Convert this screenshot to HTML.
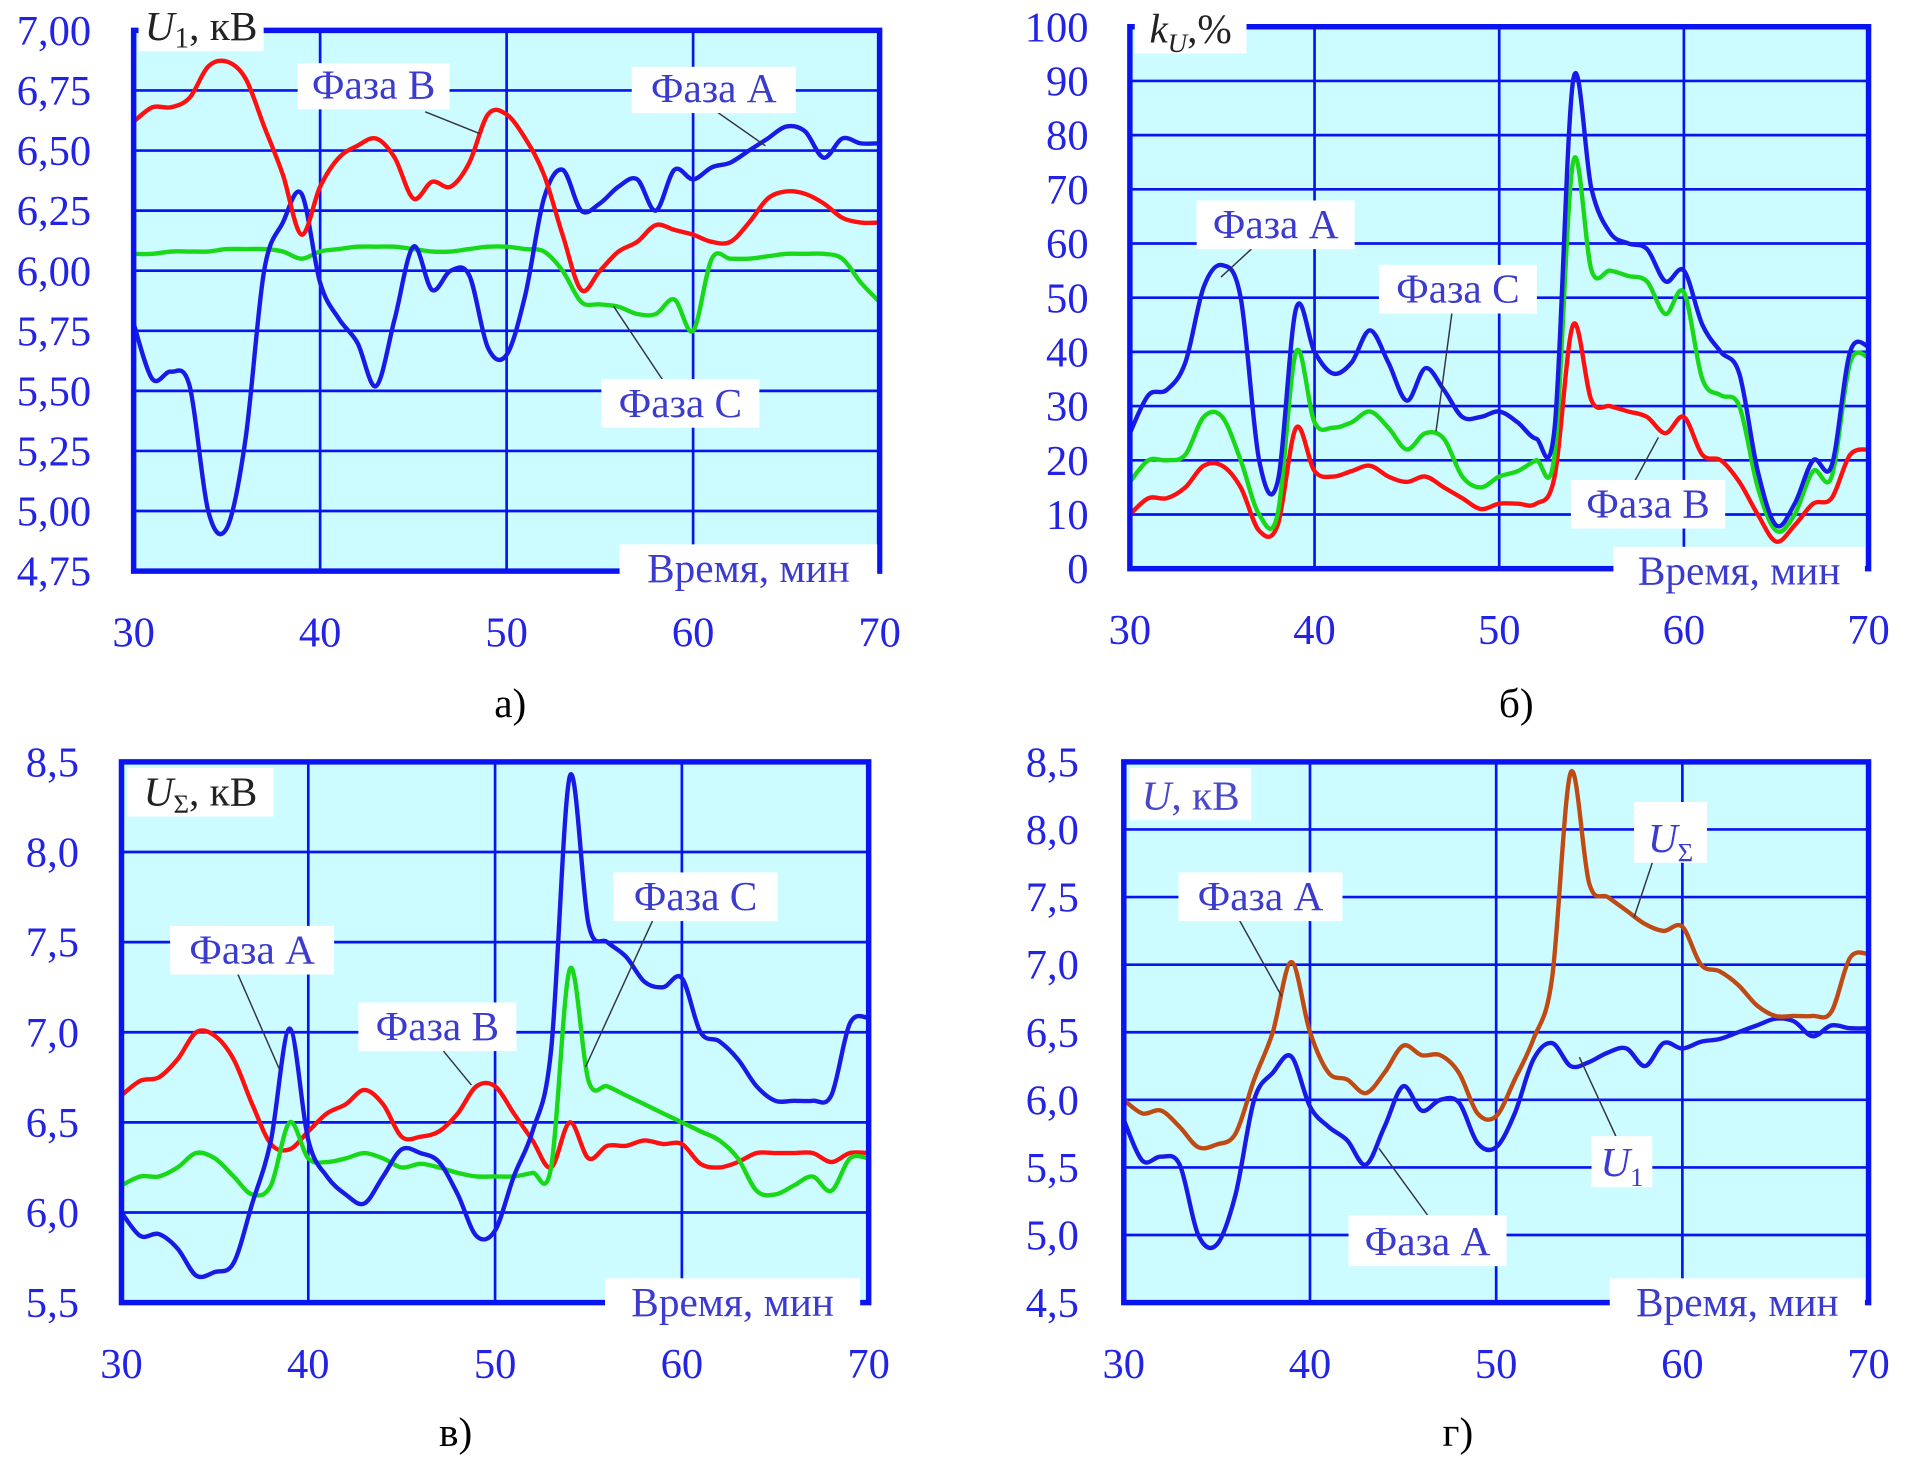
<!DOCTYPE html>
<html><head><meta charset="utf-8"><style>
html,body{margin:0;padding:0;background:#fff;}
svg{display:block;}
text{font-family:"Liberation Serif",serif;}
</style></head><body>
<svg id="svg" width="1905" height="1463" viewBox="0 0 1568 1204" preserveAspectRatio="none" xmlns="http://www.w3.org/2000/svg"></svg>
<script>
const xs = [30,31,32,33,34,35,36,37,38,39,40,41,42,43,44,45,46,47,48,49,50,51,52,53,54,55,56,57,58,59,60,61,62,63,64,65,66,67,68,69,70];
const xTicks = [30,40,50,60,70];

const aPhaseA = [5.78,5.55,5.58,5.52,5.0,4.93,5.3,6.0,6.2,6.32,5.95,5.8,5.7,5.52,5.8,6.1,5.92,6.0,5.98,5.68,5.65,5.9,6.3,6.42,6.25,6.28,6.35,6.38,6.25,6.42,6.38,6.43,6.45,6.5,6.55,6.6,6.58,6.47,6.55,6.53,6.53];
const aPhaseB = [6.62,6.68,6.68,6.72,6.85,6.87,6.8,6.6,6.4,6.15,6.35,6.47,6.52,6.55,6.47,6.3,6.37,6.35,6.45,6.65,6.65,6.55,6.4,6.15,5.92,6.0,6.08,6.12,6.19,6.17,6.15,6.12,6.12,6.2,6.3,6.33,6.32,6.28,6.22,6.2,6.2];
const aPhaseC = [6.07,6.07,6.08,6.08,6.08,6.09,6.09,6.09,6.08,6.05,6.08,6.09,6.1,6.1,6.1,6.09,6.08,6.08,6.09,6.1,6.1,6.09,6.08,6.0,5.87,5.86,5.85,5.82,5.82,5.88,5.75,6.05,6.05,6.05,6.06,6.07,6.07,6.07,6.05,5.95,5.87];
const aTicks = ["4,75","5,00","5,25","5,50","5,75","6,00","6,25","6,50","6,75","7,00"];

const bPhaseA = [25,32,33,38,52,56,50,20,16,48,40,36,38,44,38,31,37,33,28,28,29,27,24,26,90,70,62,60,59,53,55,45,40,36,18,8,12,20,19,40,41];
const bPhaseC = [16,20,20,21,28,28,20,10,10,40,27,26,27,29,26,22,25,24,17,15,17,18,20,21,75,55,55,54,53,47,51,35,32,30,15,7,10,18,17,38,39];
const bPhaseB = [10,13,13,15,19,19,15,7,8,26,18,17,18,19,17,16,17,15,13,11,12,12,12,17,45,31,30,29,28,25,28,21,20,16,10,5,8,12,13,21,22];
const bTicks = ["0","10","20","30","40","50","60","70","80","90","100"];

const cPhaseA = [6.0,5.87,5.88,5.8,5.65,5.67,5.72,6.05,6.4,7.02,6.4,6.2,6.1,6.05,6.2,6.35,6.33,6.28,6.1,5.87,5.9,6.2,6.45,6.9,8.42,7.6,7.5,7.42,7.28,7.25,7.3,7.0,6.95,6.85,6.7,6.62,6.62,6.62,6.65,7.05,7.08];
const cPhaseB = [6.65,6.73,6.75,6.85,7.0,6.98,6.85,6.6,6.38,6.35,6.45,6.55,6.6,6.68,6.6,6.42,6.42,6.45,6.55,6.7,6.7,6.55,6.4,6.25,6.5,6.3,6.37,6.37,6.4,6.38,6.38,6.27,6.25,6.28,6.33,6.33,6.33,6.33,6.28,6.33,6.33];
const cPhaseC = [6.15,6.2,6.2,6.25,6.33,6.3,6.2,6.1,6.15,6.5,6.3,6.28,6.3,6.33,6.3,6.25,6.27,6.25,6.22,6.2,6.2,6.2,6.22,6.25,7.35,6.73,6.7,6.65,6.6,6.55,6.5,6.45,6.4,6.3,6.12,6.1,6.15,6.2,6.12,6.3,6.3];
const cTicks = ["5,5","6,0","6,5","7,0","7,5","8,0","8,5"];

const dU1 = [5.85,5.55,5.58,5.52,5.0,4.93,5.3,6.0,6.2,6.32,5.95,5.8,5.7,5.52,5.8,6.1,5.92,6.0,5.98,5.68,5.65,5.9,6.3,6.42,6.25,6.28,6.35,6.38,6.25,6.42,6.38,6.43,6.45,6.5,6.55,6.6,6.58,6.47,6.55,6.53,6.53];
const dUsum = [6.0,5.9,5.92,5.8,5.65,5.67,5.75,6.15,6.5,7.02,6.5,6.2,6.15,6.05,6.2,6.4,6.33,6.33,6.2,5.9,5.88,6.15,6.45,6.9,8.42,7.6,7.5,7.4,7.3,7.25,7.28,7.0,6.95,6.85,6.7,6.62,6.62,6.62,6.65,7.05,7.08];
const dTicks = ["4,5","5,0","5,5","6,0","6,5","7,0","7,5","8,0","8,5"];

const NS = "http://www.w3.org/2000/svg";
const svg = document.getElementById('svg');
function el(tag, attrs, parent){const e=document.createElementNS(NS,tag);for(const k in attrs)e.setAttribute(k,attrs[k]);(parent||svg).appendChild(e);return e;}

function smooth(pts){
  let d = "M"+pts[0][0]+","+pts[0][1];
  for(let i=0;i<pts.length-1;i++){
    const p0=pts[Math.max(i-1,0)],p1=pts[i],p2=pts[i+1],p3=pts[Math.min(i+2,pts.length-1)];
    const c1=[p1[0]+(p2[0]-p0[0])/6,p1[1]+(p2[1]-p0[1])/6];
    const c2=[p2[0]-(p3[0]-p1[0])/6,p2[1]-(p3[1]-p1[1])/6];
    d+="C"+c1[0].toFixed(1)+","+c1[1].toFixed(1)+" "+c2[0].toFixed(1)+","+c2[1].toFixed(1)+" "+p2[0].toFixed(1)+","+p2[1].toFixed(1);
  }
  return d;
}

function panel(name, L,R,T,B, ymin,ymax, ticks, labelX, series){
  const g = el('g',{});
  
  
  const sx = v => L+(v-30)/(70-30)*(R-L);
  const sy = v => B-(v-ymin)/(ymax-ymin)*(B-T);
  const bg = el('rect',{x:L,y:T,width:R-L,height:B-T,fill:'#ccfcff'},g);
  
  
  const n = ticks.length;
  for(let i=0;i<n;i++){
    const v = ymin+i*(ymax-ymin)/(n-1);
    const y = sy(v);
    const gl = el('line',{x1:L,x2:R,y1:y,y2:y,stroke:'#0a14f0','stroke-width':2.2},g);
    
    
    const t = el('text',{x:labelX,y:y+12,'font-size':35,fill:'#2323e6','text-anchor':'end'},g);
    t.textContent = ticks[i];
    
    
  }
  for(const xv of xTicks){
    const x = sx(xv);
    const gl = el('line',{x1:x,x2:x,y1:T,y2:B,stroke:'#0a14f0','stroke-width':2.2},g);
    
    
    const t = el('text',{x:x,y:B+62,'font-size':35,fill:'#2323e6','text-anchor':'middle'},g);
    t.textContent = xv;
    
    
  }
  for(const s of series){
    const pts = xs.map((x,i)=>[sx(x),sy(s.data[i])]);
    const p = el('path',{d:smooth(pts),fill:'none',stroke:s.color,'stroke-width':3.6,'stroke-linejoin':'round'},g);
    
    
  }
  const br = el('rect',{x:L,y:T,width:R-L,height:B-T,fill:'none',stroke:'#0a14f0','stroke-width':4.5},g);
  
  
  return g;
}

function box(x,y,w,h,txt,name,color,size,italic){
  const r = el('rect',{x:x,y:y,width:w,height:h,fill:'#fff'});
  
  
  const t = el('text',{x:x+w/2,y:y+h-9,'font-size':size||34,fill:color||'#3b3bd0','text-anchor':'middle'});
  t.innerHTML = txt;
  
  
}
function leader(x1,y1,x2,y2){
  const l = el('line',{x1:x1,y1:y1,x2:x2,y2:y2,stroke:'#334',"stroke-width":1.2});
  
  
}
function cap(x,y,txt,name){
  const t = el('text',{x:x,y:y,'font-size':34,fill:'#000','text-anchor':'middle'});
  t.textContent = txt;
  
  
}

const RED='#ff1010', BLUE='#1a1ae6', GREEN='#18d818', BROWN='#c04a14';
panel('panel-a',110,724,25,470,4.75,7.0,aTicks,75,[
  {name:'series-phase-c',data:aPhaseC,color:GREEN},
  {name:'series-phase-a',data:aPhaseA,color:BLUE},
  {name:'series-phase-b',data:aPhaseB,color:RED}]);
panel('panel-b',930,1538,22,468,0,100,bTicks,896,[
  {name:'series-phase-b',data:bPhaseB,color:RED},
  {name:'series-phase-c',data:bPhaseC,color:GREEN},
  {name:'series-phase-a',data:bPhaseA,color:BLUE}]);
panel('panel-c',100,715,627,1072,5.5,8.5,cTicks,65,[
  {name:'series-phase-b',data:cPhaseB,color:RED},
  {name:'series-phase-c',data:cPhaseC,color:GREEN},
  {name:'series-phase-a',data:cPhaseA,color:BLUE}]);
panel('panel-d',925,1538,627,1072,4.5,8.5,dTicks,888,[
  {name:'series-u1',data:dU1,color:BLUE},
  {name:'series-u-sum',data:dUsum,color:BROWN}]);

// panel a annotations
box(114,0,103,42,'<tspan font-style="italic">U</tspan><tspan font-size="24" dy="6">1</tspan><tspan dy="-6">, кВ</tspan>','a-y-axis-title','#222',34);
leader(350,92,395,110); leader(590,92,630,120); leader(545,312,505,252);
box(245,52,125,38,'Фаза B','a-label-phase-b');
box(520,55,135,38,'Фаза A','a-label-phase-a');
box(495,312,130,40,'Фаза C','a-label-phase-c');
box(510,448,212,40,'Время, мин','a-x-axis-title');
cap(420,590,'а)','caption-a');

// panel b
box(934,2,92,42,'<tspan font-style="italic">k</tspan><tspan font-style="italic" font-size="22" dy="8">U</tspan><tspan dy="-8">,%</tspan>','b-y-axis-title','#222',34);
leader(1030,205,1005,228); leader(1195,258,1182,355); leader(1345,397,1365,360);
box(985,165,130,40,'Фаза A','b-label-phase-a');
box(1135,218,130,40,'Фаза C','b-label-phase-c');
box(1293,395,127,40,'Фаза B','b-label-phase-b');
box(1328,450,207,40,'Время, мин','b-x-axis-title');
cap(1248,590,'б)','caption-b');

// panel c
box(105,632,120,40,'<tspan font-style="italic">U</tspan><tspan font-size="22" dy="6">Σ</tspan><tspan dy="-6">, кВ</tspan>','c-y-axis-title','#222',34);
leader(195,800,230,880); leader(365,865,388,893); leader(537,758,482,878);
box(140,762,135,40,'Фаза A','c-label-phase-a');
box(295,825,130,40,'Фаза B','c-label-phase-b');
box(505,718,135,40,'Фаза C','c-label-phase-c');
box(498,1052,210,40,'Время, мин','c-x-axis-title');
cap(375,1190,'в)','caption-c');

// panel d
box(930,632,100,43,'<tspan font-style="italic">U</tspan>, кВ','d-y-axis-title','#4848c8',34);
leader(1020,757,1055,820); leader(1360,710,1345,755); leader(1330,935,1300,870); leader(1175,1000,1135,945);
box(970,718,135,40,'Фаза A','d-label-phase-a-top');
box(1345,660,60,50,'<tspan font-style="italic">U</tspan><tspan font-size="22" dy="8">Σ</tspan>','d-label-u-sum');
box(1310,935,50,42,'<tspan font-style="italic">U</tspan><tspan font-size="22" dy="8">1</tspan>','d-label-u1');
box(1110,1000,130,42,'Фаза A','d-label-phase-a-bottom');
box(1325,1052,210,40,'Время, мин','d-x-axis-title');
cap(1200,1190,'г)','caption-d');
</script>
</body></html>
